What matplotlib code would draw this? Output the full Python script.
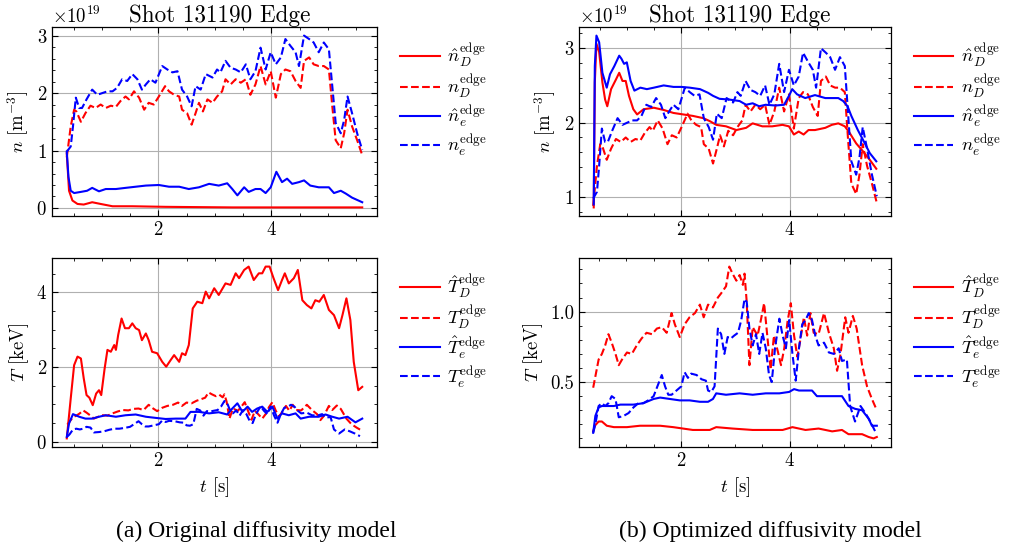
import numpy as np
import matplotlib
matplotlib.use("Agg")
from matplotlib import pyplot as plt
from matplotlib.ticker import AutoMinorLocator

# ---- measured profiles (shared by both panels) ----
t_nD = [0.38, 0.45, 0.51, 0.55, 0.63, 0.71, 0.80, 0.89, 0.98, 1.07, 1.16, 1.25, 1.33, 1.42, 1.48, 1.57,
        1.66, 1.75, 1.83, 1.92, 2.01, 2.12, 2.19, 2.28, 2.37, 2.42, 2.51, 2.59, 2.66, 2.72, 2.79, 2.87,
        2.96, 3.04, 3.13, 3.19, 3.28, 3.37, 3.46, 3.55, 3.63, 3.72, 3.81, 3.90, 3.99, 4.08, 4.17, 4.25,
        4.34, 4.43, 4.52, 4.58, 4.67, 4.75, 4.84, 4.93, 5.02, 5.08, 5.14, 5.23, 5.29, 5.35, 5.43, 5.52, 5.61]
nD = [0.88, 1.42, 1.71, 1.68, 1.50, 1.65, 1.78, 1.74, 1.80, 1.74, 1.78, 1.76, 1.86, 1.94, 1.89, 2.03,
      1.92, 1.71, 1.83, 1.80, 1.94, 2.12, 2.03, 1.97, 1.94, 1.71, 1.65, 1.45, 1.65, 1.83, 1.68, 1.89,
      1.83, 1.94, 2.03, 2.24, 2.15, 2.24, 2.18, 2.24, 1.97, 2.15, 2.47, 2.15, 2.38, 1.92, 2.33, 2.41,
      2.38, 2.21, 2.09, 2.56, 2.62, 2.50, 2.47, 2.47, 2.41, 1.77, 1.18, 1.04, 1.30, 1.71, 1.42, 1.18, 0.92]

t_ne = [0.38, 0.45, 0.49, 0.54, 0.60, 0.65, 0.73, 0.83, 0.92, 1.01, 1.10, 1.19, 1.27, 1.36, 1.45, 1.54,
        1.63, 1.71, 1.78, 1.86, 1.95, 2.07, 2.16, 2.25, 2.34, 2.42, 2.51, 2.59, 2.66, 2.75, 2.84, 2.96,
        3.04, 3.10, 3.19, 3.28, 3.37, 3.46, 3.55, 3.63, 3.72, 3.81, 3.90, 3.99, 4.08, 4.17, 4.25, 4.34,
        4.43, 4.49, 4.58, 4.67, 4.75, 4.84, 4.93, 5.02, 5.08, 5.14, 5.23, 5.29, 5.35, 5.43, 5.52, 5.61]
ne = [0.98, 1.07, 1.42, 1.92, 1.74, 1.74, 1.89, 2.06, 1.97, 2.00, 2.03, 2.03, 2.09, 2.24, 2.21, 2.33,
      2.24, 2.06, 2.15, 2.24, 2.18, 2.47, 2.41, 2.36, 2.38, 2.06, 1.94, 1.77, 2.12, 2.06, 2.33, 2.27,
      2.41, 2.36, 2.56, 2.44, 2.41, 2.36, 2.50, 2.24, 2.38, 2.79, 2.41, 2.71, 2.50, 2.62, 2.94, 2.82,
      2.71, 2.47, 3.00, 2.94, 2.88, 2.71, 2.88, 2.76, 2.12, 1.48, 1.30, 1.53, 1.94, 1.65, 1.30, 1.01]

t_TD = [0.39, 0.41, 0.49, 0.55, 0.61, 0.67, 0.73, 0.80, 0.86, 0.92, 1.01, 1.10, 1.19, 1.28, 1.37, 1.47,
        1.56, 1.65, 1.74, 1.83, 1.89, 1.98, 2.07, 2.16, 2.26, 2.35, 2.42, 2.50, 2.59, 2.68, 2.74, 2.83,
        2.89, 2.95, 3.02, 3.08, 3.14, 3.17, 3.21, 3.26, 3.32, 3.41, 3.47, 3.53, 3.59, 3.65, 3.71, 3.78,
        3.84, 3.90, 3.96, 4.02, 4.08, 4.14, 4.20, 4.26, 4.32, 4.38, 4.44, 4.53, 4.63, 4.72, 4.81, 4.87,
        4.93, 5.02, 5.08, 5.16, 5.23, 5.33, 5.42, 5.51, 5.60]
TD = [0.46, 0.50, 0.66, 0.70, 0.76, 0.84, 0.78, 0.70, 0.62, 0.66, 0.71, 0.70, 0.76, 0.81, 0.85, 0.84,
      0.88, 0.89, 0.85, 0.99, 0.91, 0.82, 0.91, 0.96, 0.99, 1.05, 0.96, 1.05, 1.03, 1.10, 1.13, 1.18,
      1.32, 1.27, 1.22, 1.26, 1.19, 1.27, 1.07, 0.62, 0.89, 0.83, 0.94, 1.06, 0.82, 0.59, 0.83, 0.72,
      0.62, 0.74, 0.93, 1.06, 0.83, 0.68, 0.81, 0.96, 0.83, 0.99, 0.85, 0.84, 0.99, 0.85, 0.74, 0.58,
      0.69, 0.96, 0.85, 0.97, 0.88, 0.62, 0.47, 0.38, 0.30]

t_Te = [0.39, 0.43, 0.49, 0.55, 0.61, 0.67, 0.73, 0.80, 0.86, 0.95, 1.04, 1.13, 1.22, 1.31, 1.40, 1.50,
        1.56, 1.65, 1.71, 1.77, 1.83, 1.92, 2.01, 2.07, 2.13, 2.19, 2.29, 2.38, 2.46, 2.50, 2.56, 2.62,
        2.68, 2.74, 2.80, 2.86, 2.92, 2.98, 3.05, 3.11, 3.17, 3.21, 3.26, 3.32, 3.38, 3.44, 3.50, 3.56,
        3.62, 3.67, 3.73, 3.81, 3.87, 3.93, 3.99, 4.05, 4.11, 4.17, 4.23, 4.29, 4.35, 4.41, 4.47, 4.53,
        4.63, 4.72, 4.81, 4.90, 4.96, 5.05, 5.11, 5.20, 5.30, 5.39, 5.48, 5.57]
Te = [0.14, 0.20, 0.33, 0.35, 0.33, 0.35, 0.40, 0.38, 0.25, 0.26, 0.28, 0.32, 0.35, 0.35, 0.37, 0.40,
      0.46, 0.55, 0.47, 0.41, 0.41, 0.44, 0.47, 0.57, 0.53, 0.56, 0.55, 0.52, 0.51, 0.44, 0.43, 0.47,
      0.88, 0.84, 0.70, 0.82, 0.81, 0.83, 0.85, 0.94, 1.09, 1.07, 0.88, 0.76, 0.84, 0.70, 0.85, 0.74,
      0.55, 0.50, 0.74, 0.95, 0.83, 0.74, 0.94, 0.70, 0.51, 0.74, 0.91, 0.94, 0.99, 0.94, 0.83, 0.76,
      0.78, 0.71, 0.70, 0.74, 0.65, 0.66, 0.33, 0.22, 0.33, 0.28, 0.22, 0.15]

# ---- (a) original diffusivity model ----
ta_nD_hat = [0.38, 0.42, 0.48, 0.57, 0.68, 0.83, 0.98, 1.19, 1.54, 2.13, 3.31, 4.49, 5.61]
a_nD_hat = [0.95, 0.30, 0.13, 0.07, 0.06, 0.10, 0.07, 0.03, 0.03, 0.02, 0.01, 0.01, 0.01]

ta_ne_hat = [0.38, 0.41, 0.45, 0.51, 0.63, 0.74, 0.83, 0.95, 1.07, 1.25, 1.42, 1.60, 1.78, 2.01, 2.19,
             2.37, 2.54, 2.72, 2.90, 3.07, 3.22, 3.31, 3.40, 3.52, 3.60, 3.72, 3.81, 3.90, 3.99, 4.09,
             4.19, 4.28, 4.37, 4.49, 4.58, 4.69, 4.84, 5.02, 5.11, 5.23, 5.32, 5.43, 5.61]
a_ne_hat = [0.98, 0.54, 0.30, 0.26, 0.28, 0.30, 0.35, 0.29, 0.33, 0.33, 0.35, 0.37, 0.39, 0.40, 0.37,
            0.37, 0.33, 0.36, 0.42, 0.39, 0.43, 0.33, 0.22, 0.36, 0.28, 0.33, 0.33, 0.26, 0.36, 0.63,
            0.45, 0.51, 0.42, 0.45, 0.48, 0.39, 0.36, 0.36, 0.26, 0.30, 0.25, 0.18, 0.10]

ta_TD_hat = [0.38, 0.45, 0.51, 0.57, 0.63, 0.68, 0.73, 0.78, 0.84, 0.90, 0.95, 0.99, 1.05, 1.10, 1.16,
             1.22, 1.25, 1.29, 1.35, 1.41, 1.48, 1.54, 1.60, 1.66, 1.71, 1.78, 1.83, 1.89, 1.98, 2.07,
             2.14, 2.22, 2.28, 2.37, 2.42, 2.48, 2.54, 2.61, 2.69, 2.78, 2.84, 2.90, 2.99, 3.07, 3.19,
             3.28, 3.37, 3.43, 3.52, 3.60, 3.69, 3.78, 3.84, 3.90, 3.97, 4.04, 4.12, 4.19, 4.24, 4.31,
             4.40, 4.47, 4.55, 4.63, 4.71, 4.78, 4.85, 4.93, 5.02, 5.11, 5.20, 5.26, 5.33, 5.40, 5.46,
             5.54, 5.61]
a_TD_hat = [0.09, 1.16, 2.05, 2.28, 2.23, 1.70, 1.25, 1.18, 0.98, 1.29, 1.38, 1.25, 1.96, 2.46, 2.41,
            2.59, 2.46, 2.86, 3.30, 3.04, 3.04, 3.17, 3.04, 2.99, 2.72, 2.90, 2.72, 2.41, 2.37, 2.14,
            2.01, 2.19, 2.32, 2.14, 2.37, 2.32, 2.59, 3.57, 3.75, 3.71, 4.02, 3.84, 4.11, 3.93, 4.24,
            4.20, 4.51, 4.38, 4.60, 4.69, 4.33, 4.51, 4.51, 4.69, 4.69, 4.38, 4.06, 4.33, 4.51, 4.24,
            4.38, 4.60, 3.79, 3.66, 3.57, 3.79, 3.75, 3.93, 3.53, 3.39, 3.04, 3.39, 3.84, 3.26, 2.14,
            1.38, 1.47]

ta_Te_hat = [0.38, 0.42, 0.49, 0.60, 0.71, 0.83, 0.95, 1.07, 1.25, 1.42, 1.60, 1.78, 1.95, 2.13, 2.31,
             2.48, 2.57, 2.72, 2.90, 3.07, 3.22, 3.31, 3.40, 3.49, 3.58, 3.66, 3.75, 3.84, 3.93, 4.02,
             4.11, 4.19, 4.31, 4.43, 4.52, 4.67, 4.84, 4.96, 5.08, 5.20, 5.35, 5.49, 5.61]
a_Te_hat = [0.13, 0.49, 0.74, 0.67, 0.62, 0.62, 0.67, 0.71, 0.67, 0.71, 0.73, 0.67, 0.64, 0.61, 0.62,
            0.62, 0.80, 0.80, 0.76, 0.79, 0.73, 0.89, 1.03, 0.80, 0.94, 0.80, 0.89, 0.94, 0.80, 0.94,
            0.62, 0.76, 0.71, 0.76, 0.62, 0.67, 0.67, 0.73, 0.67, 0.62, 0.67, 0.52, 0.62]

# ---- (b) optimized diffusivity model ----
tb_nD_hat = [0.39, 0.41, 0.44, 0.49, 0.55, 0.60, 0.64, 0.71, 0.80, 0.86, 0.92, 0.98, 1.04, 1.12, 1.19,
             1.31, 1.50, 1.68, 1.86, 2.04, 2.22, 2.41, 2.53, 2.65, 2.83, 3.02, 3.20, 3.32, 3.50, 3.68,
             3.87, 3.99, 4.08, 4.17, 4.26, 4.35, 4.47, 4.66, 4.78, 4.90, 5.02, 5.11, 5.23, 5.36, 5.48,
             5.60]
b_nD_hat = [0.86, 2.54, 3.06, 2.95, 2.54, 2.31, 2.22, 2.45, 2.58, 2.67, 2.56, 2.56, 2.36, 2.18, 2.11,
            2.18, 2.20, 2.17, 2.13, 2.11, 2.09, 2.06, 2.02, 1.97, 1.95, 1.90, 1.93, 1.99, 1.95, 1.95,
            1.97, 1.95, 1.84, 1.88, 1.84, 1.90, 1.90, 1.93, 1.97, 1.99, 1.95, 1.86, 1.72, 1.61, 1.50,
            1.38]

tb_ne_hat = [0.39, 0.41, 0.44, 0.49, 0.55, 0.63, 0.69, 0.77, 0.86, 0.90, 0.95, 1.00, 1.07, 1.14, 1.25,
             1.37, 1.50, 1.68, 1.86, 2.01, 2.16, 2.35, 2.50, 2.59, 2.71, 2.89, 3.08, 3.20, 3.32, 3.44,
             3.56, 3.74, 3.90, 3.99, 4.05, 4.14, 4.29, 4.47, 4.66, 4.90, 4.99, 5.07, 5.14, 5.26, 5.39,
             5.48, 5.60]
b_ne_hat = [0.90, 2.76, 3.17, 3.08, 2.67, 2.47, 2.65, 2.76, 2.90, 2.86, 2.79, 2.81, 2.56, 2.43, 2.47,
            2.45, 2.47, 2.50, 2.48, 2.48, 2.47, 2.45, 2.40, 2.36, 2.32, 2.31, 2.29, 2.24, 2.26, 2.22,
            2.24, 2.23, 2.24, 2.36, 2.45, 2.38, 2.33, 2.37, 2.33, 2.33, 2.29, 2.22, 2.09, 1.90, 1.72,
            1.59, 1.48]

tb_TD_hat = [0.39, 0.42, 0.49, 0.55, 0.64, 0.77, 1.01, 1.25, 1.62, 1.86, 2.22, 2.53, 2.65, 2.95, 3.32,
             3.56, 3.87, 4.05, 4.29, 4.53, 4.78, 4.96, 5.08, 5.20, 5.33, 5.45, 5.54, 5.60]
b_TD_hat = [0.15, 0.19, 0.22, 0.22, 0.19, 0.18, 0.18, 0.19, 0.19, 0.18, 0.16, 0.16, 0.18, 0.17, 0.16,
            0.16, 0.16, 0.18, 0.16, 0.17, 0.15, 0.16, 0.13, 0.13, 0.13, 0.11, 0.10, 0.11]

tb_Te_hat = [0.39, 0.43, 0.49, 0.55, 0.64, 0.77, 0.89, 1.01, 1.13, 1.31, 1.50, 1.62, 1.80, 1.98, 2.16,
             2.35, 2.50, 2.59, 2.65, 2.83, 3.08, 3.32, 3.56, 3.81, 3.99, 4.08, 4.17, 4.41, 4.50, 4.72,
             4.96, 5.08, 5.20, 5.33, 5.45, 5.51, 5.60]
b_Te_hat = [0.14, 0.26, 0.32, 0.33, 0.33, 0.33, 0.34, 0.34, 0.34, 0.35, 0.38, 0.39, 0.38, 0.37, 0.37,
            0.36, 0.36, 0.38, 0.42, 0.41, 0.42, 0.41, 0.42, 0.42, 0.43, 0.45, 0.44, 0.44, 0.40, 0.40,
            0.40, 0.33, 0.31, 0.30, 0.24, 0.19, 0.19]

n_labels = [r'$\hat{n}_D^{\mathrm{edge}}$', r'$n_D^{\mathrm{edge}}$',
            r'$\hat{n}_e^{\mathrm{edge}}$', r'$n_e^{\mathrm{edge}}$']
T_labels = [r'$\hat{T}_D^{\mathrm{edge}}$', r'$T_D^{\mathrm{edge}}$',
            r'$\hat{T}_e^{\mathrm{edge}}$', r'$T_e^{\mathrm{edge}}$']
title = 'Shot 131190 Edge'
captions = ['(a) Original diffusivity model', '(b) Optimized diffusivity model']

plt.rcParams.update({
    'font.family': 'serif',
    'font.serif': ['cmr10'],
    'mathtext.fontset': 'cm',
    'axes.formatter.use_mathtext': True,
    'axes.unicode_minus': False,
    'font.size': 13.5,
    'xtick.direction': 'in',
    'ytick.direction': 'in',
    'xtick.top': True,
    'ytick.right': True,
    'xtick.major.size': 4,
    'ytick.major.size': 4,
    'xtick.minor.size': 2.2,
    'ytick.minor.size': 2.2,
    'xtick.minor.visible': True,
    'ytick.minor.visible': True,
    'axes.linewidth': 0.9,
    'axes.grid': True,
    'grid.color': '#b0b0b0',
    'grid.linewidth': 0.8,
    'lines.linewidth': 1.5,
})

fig = plt.figure(figsize=(10.12, 5.5), dpi=100)
W, H = 1012.0, 550.0


def box(l, r, t, b):
    return [l / W, 1 - b / H, (r - l) / W, (b - t) / H]


ax_na = fig.add_axes(box(52, 377, 27, 216))
ax_Ta = fig.add_axes(box(52, 377, 258, 447))
ax_nb = fig.add_axes(box(579, 891, 27, 216))
ax_Tb = fig.add_axes(box(579, 891, 258, 447))

scale = 1e19
for ax, (tnh, nh, tneh, neh) in [(ax_na, (ta_nD_hat, a_nD_hat, ta_ne_hat, a_ne_hat)),
                                  (ax_nb, (tb_nD_hat, b_nD_hat, tb_ne_hat, b_ne_hat))]:
    ax.plot(tnh, np.array(nh) * scale, color='red', ls='-', label=n_labels[0])
    ax.plot(t_nD, np.array(nD) * scale, color='red', ls='--', label=n_labels[1])
    ax.plot(tneh, np.array(neh) * scale, color='blue', ls='-', label=n_labels[2])
    ax.plot(t_ne, np.array(ne) * scale, color='blue', ls='--', label=n_labels[3])
    ax.set_ylabel(r'$n$ [m$^{-3}$]')
    ax.set_title(title, fontsize=16.7, pad=3, x=0.515)

for ax, (tth, th, tteh, teh) in [(ax_Ta, (ta_TD_hat, a_TD_hat, ta_Te_hat, a_Te_hat)),
                                  (ax_Tb, (tb_TD_hat, b_TD_hat, tb_Te_hat, b_Te_hat))]:
    ax.plot(tth, th, color='red', ls='-', label=T_labels[0])
    ax.plot(t_TD, TD, color='red', ls='--', label=T_labels[1])
    ax.plot(tteh, teh, color='blue', ls='-', label=T_labels[2])
    ax.plot(t_Te, Te, color='blue', ls='--', label=T_labels[3])
    ax.set_ylabel(r'$T$ [keV]')
    ax.set_xlabel(r'$t$ [s]')

ax_Ta.set_yticks([0, 2, 4])
ax_Tb.set_yticks([0.5, 1.0])
ax_Tb.yaxis.set_major_formatter(plt.FormatStrFormatter('%.1f'))

for ax in [ax_na, ax_Ta, ax_nb, ax_Tb]:
    ax.set_xticks([2, 4])
    ax.xaxis.set_minor_locator(AutoMinorLocator(4))
    ax.yaxis.set_minor_locator(AutoMinorLocator())
    ax.legend(loc='upper left', bbox_to_anchor=(1.02, 1.01), frameon=False,
              handlelength=2.1, handletextpad=0.4, labelspacing=0.18, fontsize=13.5)

ax_Ta.yaxis.set_minor_locator(AutoMinorLocator(4))

fig.text(256 / W, 1 - 531 / H, captions[0], ha='center', va='center',
         family='Liberation Serif', fontsize=17)
fig.text(770 / W, 1 - 531 / H, captions[1], ha='center', va='center',
         family='Liberation Serif', fontsize=17)

fig.savefig('out.png', dpi=100)
